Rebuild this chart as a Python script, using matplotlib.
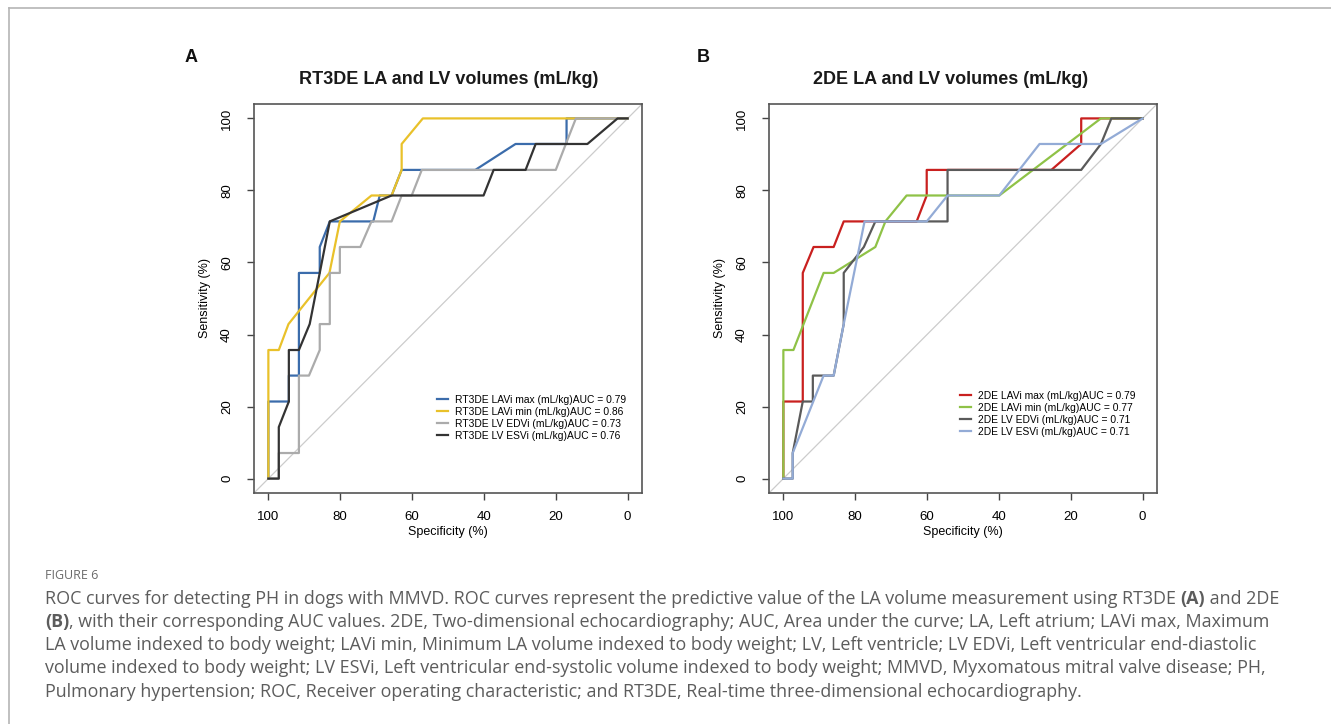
import matplotlib
matplotlib.use("Agg")
import matplotlib.pyplot as plt
from matplotlib.lines import Line2D

W, H = 1331, 724

# ROC curves: specificity (%) / sensitivity (%)
# panel A, RT3DE
a_labels = ["RT3DE LAVi max (mL/kg)AUC = 0.79",
            "RT3DE LAVi min (mL/kg)AUC = 0.86",
            "RT3DE LV EDVi (mL/kg)AUC = 0.73",
            "RT3DE LV ESVi (mL/kg)AUC = 0.76"]
a_colors = ["#3b6cab", "#e9c12a", "#ababab", "#333333"]

a_lavi_max_spec = [100, 100, 94.3, 94.3, 91.5, 91.5, 85.7, 85.7, 82.9, 70.8, 69.0, 65.7, 62.9, 42.4, 31.2, 17.0, 17.0, 0]
a_lavi_max_sens = [0, 21.4, 21.4, 28.6, 28.6, 57.1, 57.1, 64.3, 71.4, 71.4, 78.6, 78.6, 85.7, 85.7, 92.9, 92.9, 100, 100]

a_lavi_min_spec = [100, 100, 97.1, 94.4, 83.0, 80.1, 71.3, 65.7, 62.9, 62.9, 57.0, 0]
a_lavi_min_sens = [0, 35.7, 35.7, 42.9, 57.1, 71.4, 78.6, 78.6, 85.7, 92.9, 100, 100]

a_edvi_spec = [100, 97.1, 97.1, 91.5, 91.5, 88.7, 85.7, 85.7, 82.9, 82.9, 80.1, 80.1, 74.4, 71.3, 65.7, 62.9, 60.1, 57.3, 20.0, 17.2, 14.4, 0]
a_edvi_sens = [0, 0, 7.1, 7.1, 28.6, 28.6, 35.7, 42.9, 42.9, 57.1, 57.1, 64.3, 64.3, 71.4, 71.4, 78.6, 78.6, 85.7, 85.7, 92.9, 100, 100]

a_esvi_spec = [100, 97.1, 97.1, 94.3, 94.3, 91.5, 88.5, 85.7, 82.9, 65.7, 40.1, 37.3, 28.4, 25.6, 11.2, 2.8, 0]
a_esvi_sens = [0, 0, 14.3, 21.4, 35.7, 35.7, 42.9, 57.1, 71.4, 78.6, 78.6, 85.7, 85.7, 92.9, 92.9, 100, 100]

# panel B, 2DE
b_labels = ["2DE LAVi max (mL/kg)AUC = 0.79",
            "2DE LAVi min (mL/kg)AUC = 0.77",
            "2DE LV EDVi (mL/kg)AUC = 0.71",
            "2DE LV ESVi (mL/kg)AUC = 0.71"]
b_colors = ["#c9201f", "#8fc247", "#5a5a5a", "#93abd6"]

b_lavi_max_spec = [100, 100, 94.6, 94.6, 91.6, 86.0, 83.2, 62.9, 60.1, 60.1, 25.4, 17.1, 17.1, 0]
b_lavi_max_sens = [0, 21.4, 21.4, 57.1, 64.3, 64.3, 71.4, 71.4, 78.6, 85.7, 85.7, 92.9, 100, 100]

b_lavi_min_spec = [100, 100, 97.2, 88.8, 86.0, 74.4, 71.6, 65.7, 39.9, 11.6, 0]
b_lavi_min_sens = [0, 35.7, 35.7, 57.1, 57.1, 64.3, 71.4, 78.6, 78.6, 100, 100]

b_edvi_spec = [100, 97.4, 97.4, 94.6, 91.8, 91.8, 86.0, 83.2, 83.2, 77.6, 74.4, 54.3, 54.3, 17.1, 11.6, 8.7, 0]
b_edvi_sens = [0, 0, 7.1, 21.4, 21.4, 28.6, 28.6, 42.9, 57.1, 64.3, 71.4, 71.4, 85.7, 85.7, 92.9, 100, 100]

b_esvi_spec = [100, 97.4, 97.4, 88.8, 86.0, 83.2, 77.4, 60.1, 54.3, 39.9, 28.7, 11.6, 0]
b_esvi_sens = [0, 0, 7.1, 28.6, 28.6, 42.9, 71.4, 71.4, 78.6, 78.6, 92.9, 92.9, 100]

ticks = [0, 20, 40, 60, 80, 100]

caption_lines = [
    [("ROC curves for detecting PH in dogs with MMVD. ROC curves represent the predictive value of the LA volume measurement using RT3DE ", "normal"),
     ("(A)", "bold"), (" and 2DE", "normal")],
    [("(B)", "bold"),
     (", with their corresponding AUC values. 2DE, Two-dimensional echocardiography; AUC, Area under the curve; LA, Left atrium; LAVi max, Maximum", "normal")],
    [("LA volume indexed to body weight; LAVi min, Minimum LA volume indexed to body weight; LV, Left ventricle; LV EDVi, Left ventricular end-diastolic", "normal")],
    [("volume indexed to body weight; LV ESVi, Left ventricular end-systolic volume indexed to body weight; MMVD, Myxomatous mitral valve disease; PH,", "normal")],
    [("Pulmonary hypertension; ROC, Receiver operating characteristic; and RT3DE, Real-time three-dimensional echocardiography.", "normal")],
]

plt.rcParams['font.family'] = ['Liberation Sans', 'DejaVu Sans']

fig = plt.figure(figsize=(W / 100, H / 100), dpi=100)


def fx(px):
    return px / W


def fy(py):
    return 1 - py / H


def roc_panel(left, title, title_x, letter_x, curves, labels, colors, leg_xy):
    ax = fig.add_axes([fx(left), fy(493), 388 / W, 389 / H])
    ax.axline((100, 0), (0, 100), color="#cccccc", lw=0.9, zorder=1)
    for (spec, sens), lab, col in zip(curves, labels, colors):
        ax.plot(spec, sens, color=col, lw=1.6, label=lab, zorder=2)
    ax.set_xlim(104, -4)
    ax.set_ylim(-4, 104)
    ax.set_xticks(ticks)
    ax.set_yticks(ticks)
    ax.set_xticklabels([str(t) for t in ticks], fontsize=9.5)
    ax.set_yticklabels([str(t) for t in ticks], fontsize=9.5, rotation=90, va="center")
    ax.tick_params(axis="x", length=5, width=1, color="#444444", pad=8)
    ax.tick_params(axis="y", length=5, width=1, color="#444444", pad=10)
    for s in ax.spines.values():
        s.set_color("#555555")
        s.set_linewidth(1.2)
    ax.set_xlabel("Specificity (%)", fontsize=9)
    ax.xaxis.set_label_coords(0.5, -0.086)
    ax.set_ylabel("Sensitivity (%)", fontsize=9)
    ax.yaxis.set_label_coords(-0.112, 0.5)
    ax.legend(loc="upper left", bbox_to_anchor=(fx(leg_xy[0]), fy(leg_xy[1])),
              bbox_transform=fig.transFigure, frameon=False, fontsize=7.4,
              handlelength=1.1, handletextpad=0.7, labelspacing=0.18,
              borderpad=0, borderaxespad=0)
    fig.text(fx(title_x), fy(80), title, fontsize=13, fontweight="bold",
             ha="center", va="center", color="#1a1a1a")
    fig.text(fx(letter_x), fy(57), "A" if left < 500 else "B", fontsize=13,
             fontweight="bold", ha="left", va="center", color="#111111")
    return ax


roc_panel(254, "RT3DE LA and LV volumes (mL/kg)", 449, 185,
          [(a_lavi_max_spec, a_lavi_max_sens), (a_lavi_min_spec, a_lavi_min_sens),
           (a_edvi_spec, a_edvi_sens), (a_esvi_spec, a_esvi_sens)],
          a_labels, a_colors, (437, 395))
roc_panel(769, "2DE LA and LV volumes (mL/kg)", 951, 697,
          [(b_lavi_max_spec, b_lavi_max_sens), (b_lavi_min_spec, b_lavi_min_sens),
           (b_edvi_spec, b_edvi_sens), (b_esvi_spec, b_esvi_sens)],
          b_labels, b_colors, (960, 391))

# frame lines of the figure box (top and left only)
fig.add_artist(Line2D([fx(9), 1], [fy(8), fy(8)], color="#b5b5b5", lw=1.2))
fig.add_artist(Line2D([fx(9), fx(9)], [fy(8), 0], color="#b5b5b5", lw=1.2))

# caption
cap_font = ["Open Sans", "DejaVu Sans"]
cap_col = "#5c5c5c"
fig.text(fx(45), fy(579), "FIGURE 6", fontsize=9, color="#6a6a6a", family=cap_font)

renderer = fig.canvas.get_renderer()
base_y = [604, 627, 650, 673, 697]
for parts, by in zip(caption_lines, base_y):
    x = 45
    for s, w in parts:
        t = fig.text(fx(x), fy(by), s, fontsize=12.9, fontweight=w, color=cap_col,
                     family=cap_font, va="baseline")
        x += t.get_window_extent(renderer).width

fig.savefig("out.png", dpi=100)
